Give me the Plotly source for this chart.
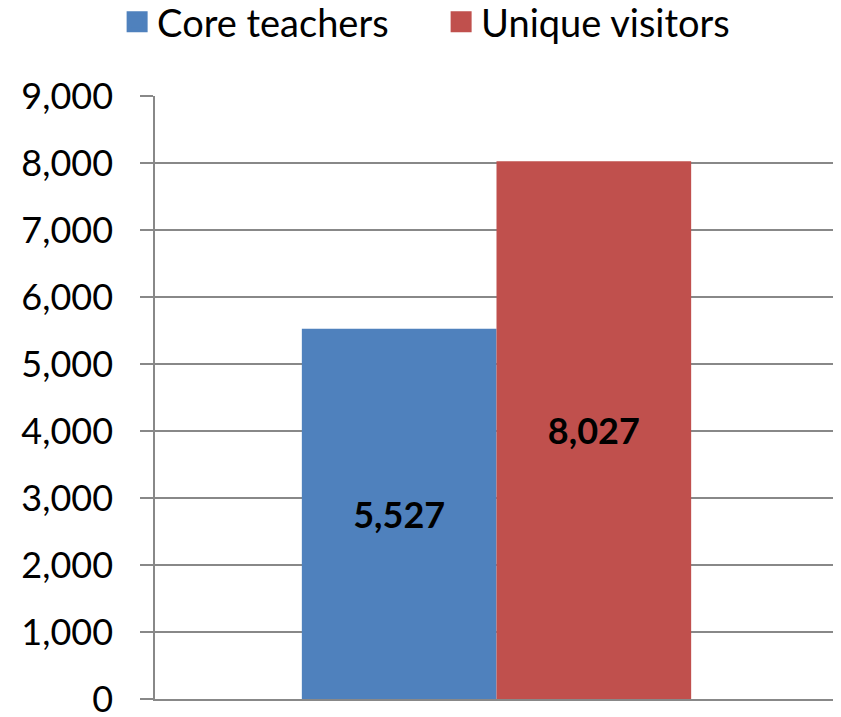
import plotly.graph_objs as go

categories = [""]
series_names = ["Core teachers", "Unique visitors"]
core_teachers = [5527]
unique_visitors = [8027]
colors = ["#4F81BD", "#C0504D"]

font_family = "Lato"

fig = go.Figure()
for name, values, color in zip(series_names, [core_teachers, unique_visitors], colors):
    fig.add_trace(go.Bar(
        x=categories, y=values, name=name, marker_color=color, marker_line_width=0,
        text=[f"{v:,}" for v in values], textposition="inside",
        insidetextanchor="middle", textangle=0, showlegend=False,
        textfont=dict(family=font_family, size=36, color="black", weight="bold"),
    ))

# legend entries with bigger square swatches than the bar legend gives
for name, color in zip(series_names, colors):
    fig.add_trace(go.Scatter(
        x=[None], y=[None], mode="markers", name=name,
        marker=dict(symbol="square", size=24, color=color,
                    line=dict(width=5, color=color)),
    ))

# page body has an 8px margin, so the figure is shifted 8px right and down
fig.update_layout(
    width=833, height=717,
    barmode="group", bargap=0.43, bargroupgap=0,
    plot_bgcolor="white", paper_bgcolor="white",
    margin=dict(l=147, r=3, t=88, b=26, autoexpand=False),
    font=dict(family=font_family, size=36, color="black"),
    legend=dict(orientation="h", xref="container", yref="paper",
                x=0.131, xanchor="left", y=1.175, yanchor="top",
                font=dict(size=38), itemsizing="trace", entrywidth=279,
                traceorder="normal"),
    uniformtext=dict(mode=False),
)
fig.update_yaxes(range=[0, 9000], dtick=1000, tickformat=",", showgrid=True,
                 gridcolor="#888888", gridwidth=1.5, showline=True, linecolor="#888888",
                 linewidth=1.5, ticks="outside", ticklen=13, tickcolor="#888888",
                 tickwidth=1.5, zeroline=False, ticklabelstandoff=20)
fig.update_xaxes(showticklabels=False, showline=True, linecolor="#888888", linewidth=1.5,
                 showgrid=False, range=[-0.5, 0.5])

fig.write_html("out.html")
